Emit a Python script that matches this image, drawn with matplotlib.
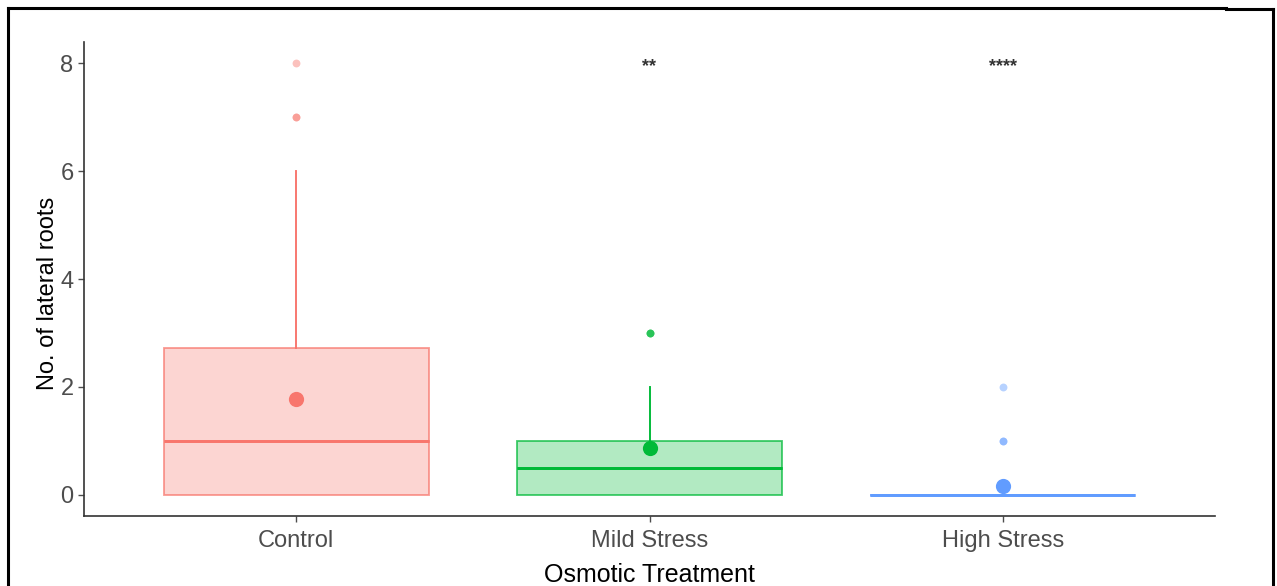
import matplotlib.pyplot as plt
from matplotlib.lines import Line2D

plt.rcParams['font.family'] = ['Liberation Sans', 'DejaVu Sans']

groups = ['Control', 'Mild Stress', 'High Stress']
colors = ['#F8766D', '#00BA38', '#619CFF']

# summary statistics per group
q1 = [0, 0, 0]
med = [1, 0.5, 0]
q3 = [2.72, 1, 0]
whislo = [0, 0, 0]
whishi = [6, 2, 0]
means = [1.77, 0.87, 0.17]
outliers = [[7, 7, 8], [3, 3, 3], [1, 1, 2]]
signif = ['', '**', '****']

fig = plt.figure(figsize=(12.77, 5.86), dpi=100)
ax = fig.add_axes([84 / 1277, 70 / 586, (1215 - 84) / 1277, (516 - 42) / 586])

stats = []
for i, g in enumerate(groups):
    stats.append(dict(label=g, q1=q1[i], med=med[i], q3=q3[i],
                      whislo=whislo[i], whishi=whishi[i], fliers=[]))

for i, s in enumerate(stats):
    c = colors[i]
    ax.bxp([s], positions=[i + 1], widths=0.75, patch_artist=True,
           showcaps=False, showfliers=False,
           boxprops=dict(facecolor=c, edgecolor=c, alpha=0.3, linewidth=1.3),
           medianprops=dict(color=c, linewidth=2),
           whiskerprops=dict(color=c, linewidth=1.3))
    # redraw box outline more opaque
    ax.bxp([s], positions=[i + 1], widths=0.75, patch_artist=True,
           showcaps=False, showfliers=False,
           boxprops=dict(facecolor='none', edgecolor=c, alpha=0.6, linewidth=1.3),
           medianprops=dict(color=c, linewidth=2),
           whiskerprops=dict(color=c, linewidth=1.3, alpha=0.6))
    ax.scatter([i + 1] * len(outliers[i]), outliers[i], s=32, color=c,
               alpha=0.45, linewidths=0, zorder=3)
    ax.scatter([i + 1], [means[i]], s=120, color=c, linewidths=0, zorder=4)
    if signif[i]:
        ax.text(i + 1, 7.94, signif[i], ha='center', va='center', fontsize=13,
                fontweight='bold', color='#333333')

ax.set_xlim(0.4, 3.6)
ax.set_ylim(-0.39, 8.39)
ax.set_xticks([1, 2, 3])
ax.set_xticklabels(groups)
ax.set_yticks([0, 2, 4, 6, 8])
ax.tick_params(axis='both', labelsize=17, colors='#4D4D4D', length=4,
               width=1, labelcolor='#4D4D4D')
ax.tick_params(axis='x', pad=6)
for side in ['top', 'right']:
    ax.spines[side].set_visible(False)
for side in ['left', 'bottom']:
    ax.spines[side].set_color('#333333')
    ax.spines[side].set_linewidth(1.2)

ax.set_xlabel('Osmotic Treatment', fontsize=18, color='black', labelpad=8)
ax.set_ylabel('No. of lateral roots', fontsize=17, color='black')
ax.yaxis.set_label_coords(-0.022, 0.47)

# outer frame lines
W, H = 1277, 586
frame = [((8, 8), (8, 586)), ((8, 1226), (8, 8)), ((1226, 1273), (9, 9)),
         ((1273, 1273), (9, 586))]
for xs, ys in frame:
    fig.add_artist(Line2D([x / W for x in xs], [1 - y / H for y in ys],
                          color='black', linewidth=2.2))

fig.savefig('out.png', dpi=100)
